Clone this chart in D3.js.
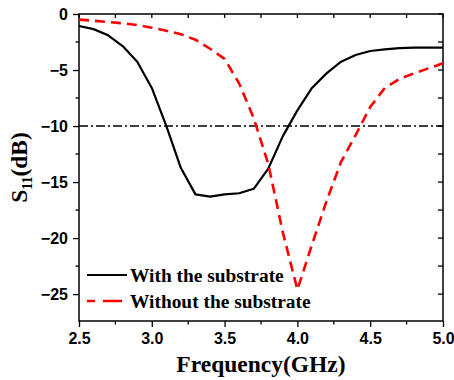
<!DOCTYPE html>
<html>
<head>
<meta charset="utf-8">
<script src="https://cdn.jsdelivr.net/npm/d3@7"></script>
<style>
  body { margin: 0; background: #fff; }
  svg { display: block; }
</style>
</head>
<body>
<div id="chart"></div>
<script>
// frequency points (GHz)
const freq = [2.5, 2.6, 2.7, 2.8, 2.9, 3.0, 3.1, 3.2, 3.3, 3.4, 3.5, 3.6, 3.7,
              3.8, 3.9, 4.0, 4.1, 4.2, 4.3, 4.4, 4.5, 4.6, 4.7, 4.8, 4.9, 5.0];
// S11 (dB) with the substrate
const withSub = [-1.07, -1.35, -1.9, -2.86, -4.26, -6.6, -10.0, -13.75, -16.1, -16.3, -16.1, -16.0, -15.6,
                 -13.8, -10.9, -8.6, -6.6, -5.3, -4.26, -3.66, -3.3, -3.15, -3.05, -3.0, -3.0, -3.0];
// S11 (dB) without the substrate
const withoutSub = [-0.5, -0.6, -0.72, -0.83, -0.98, -1.22, -1.5, -1.8, -2.3, -3.1, -4.0, -6.2, -9.3,
                    -13.4, -19.5, -24.6, -20.6, -16.7, -13.2, -10.8, -8.3, -6.6, -5.8, -5.3, -4.85, -4.4];
const xTicks = [2.5, 3.0, 3.5, 4.0, 4.5, 5.0];
const yTicks = [0, -5, -10, -15, -20, -25];
const refLevel = -10;
const seriesNames = ["With the substrate", "Without the substrate"];

const width = 454, height = 380;
const margin = { left: 79, right: 11, top: 14, bottom: 59 };

const svg = d3.select("#chart").append("svg")
    .attr("width", width)
    .attr("height", height);

const x = d3.scaleLinear().domain([2.5, 5.0]).range([margin.left, width - margin.right]);
const y = d3.scaleLinear().domain([-27.4, 0]).range([height - margin.bottom, margin.top]);

const x0 = x.range()[0], x1 = x.range()[1];
const y0 = y.range()[0], y1 = y.range()[1];

// minor tick positions
const xMinor = d3.range(2.75, 5.0, 0.5);
const yMinor = d3.range(-2.5, -27.4, -5);

const tickFont = "bold 16px 'Liberation Sans', Arial, sans-serif";
const serifFont = "'Liberation Serif', 'Times New Roman', serif";

// bottom axis (ticks outward)
const bottom = svg.append("g").attr("transform", `translate(0,${y0})`);
bottom.call(d3.axisBottom(x).tickValues(xTicks).tickFormat(d3.format(".1f")).tickSize(6).tickPadding(6))
    .call(g => g.select(".domain").remove());
bottom.selectAll(".tick line").attr("stroke", "#000").attr("stroke-width", 1.3);
bottom.selectAll(".tick text").style("font", tickFont).attr("fill", "#000");
bottom.selectAll(".minor").data(xMinor).enter().append("line")
    .attr("x1", d => x(d)).attr("x2", d => x(d))
    .attr("y1", 0).attr("y2", 3.5)
    .attr("stroke", "#000").attr("stroke-width", 1.3);

// left axis (ticks outward)
const left = svg.append("g").attr("transform", `translate(${x0},0)`);
left.call(d3.axisLeft(y).tickValues(yTicks).tickFormat(d3.format("d")).tickSize(6).tickPadding(5))
    .call(g => g.select(".domain").remove());
left.selectAll(".tick line").attr("stroke", "#000").attr("stroke-width", 1.3);
left.selectAll(".tick text").style("font", tickFont).attr("fill", "#000");
left.selectAll(".minor").data(yMinor).enter().append("line")
    .attr("y1", d => y(d)).attr("y2", d => y(d))
    .attr("x1", 0).attr("x2", -3.5)
    .attr("stroke", "#000").attr("stroke-width", 1.3);

// top and right mirror ticks (inward)
const xAll = xTicks.concat(xMinor);
svg.append("g").selectAll("line").data(xAll).enter().append("line")
    .attr("x1", d => x(d)).attr("x2", d => x(d))
    .attr("y1", y1).attr("y2", y1 + 4)
    .attr("stroke", "#000").attr("stroke-width", 1.3);
const yAll = yTicks.concat(yMinor);
svg.append("g").selectAll("line").data(yAll).enter().append("line")
    .attr("y1", d => y(d)).attr("y2", d => y(d))
    .attr("x1", x1).attr("x2", x1 - 5)
    .attr("stroke", "#000").attr("stroke-width", 1.3);

// frame
svg.append("rect")
    .attr("x", x0).attr("y", y1)
    .attr("width", x1 - x0).attr("height", y0 - y1)
    .attr("fill", "none").attr("stroke", "#000").attr("stroke-width", 1.5);

// -10 dB reference line
svg.append("line")
    .attr("x1", x0).attr("x2", x1)
    .attr("y1", y(refLevel)).attr("y2", y(refLevel))
    .attr("stroke", "#000").attr("stroke-width", 1.4)
    .attr("stroke-dasharray", "9,3,2,3");

const line = d3.line().x((d, i) => x(freq[i])).y(d => y(d));

svg.append("path")
    .datum(withSub)
    .attr("d", line)
    .attr("fill", "none")
    .attr("stroke", "#000")
    .attr("stroke-width", 2.2)
    .attr("stroke-linejoin", "round");

svg.append("path")
    .datum(withoutSub)
    .attr("d", line)
    .attr("fill", "none")
    .attr("stroke", "#ff0000")
    .attr("stroke-width", 2.6)
    .attr("stroke-dasharray", "10,6");

// legend
const legend = svg.append("g");
const legY = [275, 301];
legend.append("line")
    .attr("x1", 87).attr("x2", 127).attr("y1", legY[0]).attr("y2", legY[0])
    .attr("stroke", "#000").attr("stroke-width", 2.2);
legend.append("line")
    .attr("x1", 87).attr("x2", 122).attr("y1", legY[1]).attr("y2", legY[1])
    .attr("stroke", "#ff0000").attr("stroke-width", 2.6)
    .attr("stroke-dasharray", "8,8,11,0");
legend.selectAll("text").data(seriesNames).enter().append("text")
    .attr("x", 130)
    .attr("y", (d, i) => legY[i] + 6.5)
    .style("font", `bold 19.4px ${serifFont}`)
    .attr("fill", "#000")
    .text(d => d);

// axis titles
svg.append("text")
    .attr("x", (x0 + x1) / 2)
    .attr("y", 372)
    .attr("text-anchor", "middle")
    .style("font", `bold 23.5px ${serifFont}`)
    .text("Frequency(GHz)");

const yTitle = svg.append("text")
    .attr("transform", `translate(27,${(y0 + y1) / 2}) rotate(-90)`)
    .attr("text-anchor", "middle")
    .style("font", `bold 23.5px ${serifFont}`);
yTitle.append("tspan").text("S");
yTitle.append("tspan").attr("dy", 5).style("font-size", "14px").text("11");
yTitle.append("tspan").attr("dy", -5).text("(dB)");
</script>
</body>
</html>
